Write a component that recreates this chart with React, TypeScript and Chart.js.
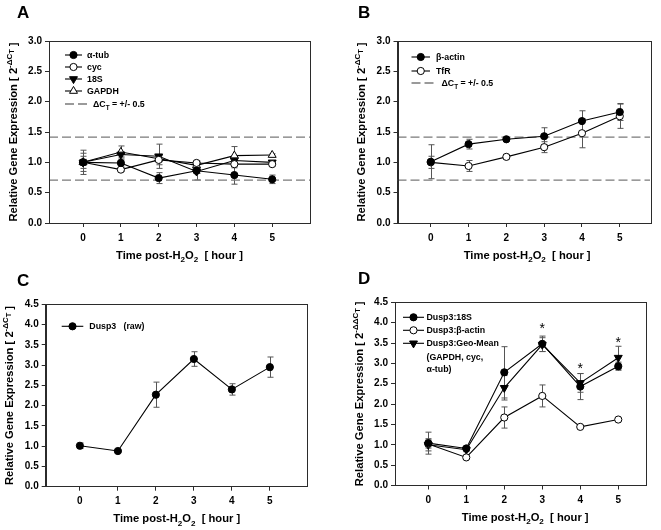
import React, { useEffect, useRef } from "react";
import { Chart, registerables } from "chart.js";

Chart.register(...registerables);

const W = 661;
const H = 530;
const FONT = "'Liberation Sans', Arial, Helvetica, sans-serif";

// ---------------- data ----------------
const hours = [0, 1, 2, 3, 4, 5];
const yTicksAB = [0, 0.5, 1, 1.5, 2, 2.5, 3];
const yTicksCD = [0, 0.5, 1, 1.5, 2, 2.5, 3, 3.5, 4, 4.5];
const refUpper = 1.414;
const refLower = 0.707;

// Panel A
const alphaTub = [1.0, 0.99, 0.74, 0.86, 0.79, 0.72];
const alphaTubErr = [0.1, 0.05, 0.09, 0.04, 0.15, 0.07];
const cyc = [1.0, 0.88, 1.04, 0.99, 0.97, 0.97];
const cycErr = [0.2, 0.03, 0.08, 0.03, 0.06, 0.03];
const s18 = [1.0, 1.13, 1.1, 0.85, 1.03, 1.0];
const s18Err = [0.15, 0.04, 0.2, 0.14, 0.05, 0.03];
const gapdh = [1.0, 1.17, 1.06, 0.95, 1.11, 1.12];
const gapdhErr = [0.05, 0.1, 0.05, 0.04, 0.15, 0.02];

// Panel B
const betaActin = [1.01, 1.3, 1.38, 1.43, 1.68, 1.83];
const betaActinErr = [0.28, 0.08, 0.03, 0.14, 0.17, 0.14];
const tfr = [1.0, 0.94, 1.09, 1.25, 1.48, 1.76];
const tfrErr = [0.1, 0.09, 0.04, 0.09, 0.24, 0.2];

// Panel C
const dusp3Raw = [1.01, 0.88, 2.27, 3.15, 2.4, 2.95];
const dusp3RawErr = [0.07, 0.03, 0.31, 0.18, 0.14, 0.25];

// Panel D
const dusp18S = [1.04, 0.91, 2.78, 3.48, 2.43, 2.93];
const dusp18SErr = [0.27, 0.05, 0.63, 0.19, 0.32, 0.1];
const duspActin = [1.02, 0.69, 1.67, 2.2, 1.44, 1.62];
const duspActinErr = [0.1, 0.03, 0.26, 0.27, 0.02, 0.03];
const duspGeo = [1.0, 0.88, 2.4, 3.46, 2.52, 3.14];
const duspGeoErr = [0.15, 0.05, 0.3, 0.17, 0.23, 0.28];
const asteriskHours = [3, 4, 5];
const asteriskLevels = [3.94, 2.97, 3.61];

// ---------------- types & helpers ----------------
type Mode = "n" | "sub" | "sup" | "supsub";
type Seg = [string, Mode?];
type Marker = "filledCircle" | "openCircle" | "filledTriDown" | "openTriUp";

interface SeriesCfg {
  values: number[];
  errors: number[];
  marker: Marker;
}
interface LegendRow {
  segs: Seg[];
  marker?: Marker | "dash";
  dy: number;
}
interface PanelCfg {
  key: string;
  letter: string;
  letterX: number;
  letterY: number;
  area: { left: number; top: number; right: number; bottom: number };
  xMin: number;
  xMax: number;
  yMax: number;
  yTicks: number[];
  series: SeriesCfg[];
  refLines: boolean;
  legend: { x0: number; x1: number; tx: number; dashTx: number; rows: LegendRow[] };
  yTitle: Seg[];
  asterisks?: { x: number[]; y: number[] };
}

function segSize(mode: Mode, size: number) {
  if (mode === "supsub") return size * 0.62;
  if (mode === "n") return size;
  return size * 0.72;
}
function segShift(mode: Mode, size: number) {
  if (mode === "sub") return size * 0.3;
  if (mode === "sup") return -size * 0.42;
  if (mode === "supsub") return -size * 0.42 + size * 0.22;
  return 0;
}
function measureRich(ctx: CanvasRenderingContext2D, segs: Seg[], size: number) {
  let w = 0;
  for (const [t, m = "n"] of segs) {
    ctx.font = `bold ${segSize(m, size)}px ${FONT}`;
    w += ctx.measureText(t).width;
  }
  return w;
}
function drawRich(ctx: CanvasRenderingContext2D, segs: Seg[], x: number, y: number, size: number) {
  let cx = x;
  ctx.textBaseline = "alphabetic";
  ctx.textAlign = "left";
  for (const [t, m = "n"] of segs) {
    ctx.font = `bold ${segSize(m, size)}px ${FONT}`;
    ctx.fillText(t, cx, y + segShift(m, size));
    cx += ctx.measureText(t).width;
  }
}
function drawMarker(ctx: CanvasRenderingContext2D, m: Marker, x: number, y: number) {
  ctx.save();
  ctx.lineWidth = 1;
  ctx.strokeStyle = "#000";
  ctx.fillStyle = m === "filledCircle" || m === "filledTriDown" ? "#000" : "#fff";
  ctx.beginPath();
  if (m === "filledCircle" || m === "openCircle") {
    ctx.arc(x, y, 3.6, 0, Math.PI * 2);
  } else {
    const r = 4.6;
    let rad = m === "filledTriDown" ? Math.PI : 0;
    ctx.moveTo(x + Math.sin(rad) * r, y - Math.cos(rad) * r);
    rad += (2 * Math.PI) / 3;
    ctx.lineTo(x + Math.sin(rad) * r, y - Math.cos(rad) * r);
    rad += (2 * Math.PI) / 3;
    ctx.lineTo(x + Math.sin(rad) * r, y - Math.cos(rad) * r);
    ctx.closePath();
  }
  ctx.fill();
  ctx.stroke();
  ctx.restore();
}

const xTitle: Seg[] = [["Time post-H"], ["2", "sub"], ["O"], ["2", "sub"], ["  [ hour ]"]];
const yTitleCT: Seg[] = [["Relative Gene Expression [ 2"], ["-\u0394C", "sup"], ["T", "supsub"], [" ]"]];
const yTitleDDCT: Seg[] = [["Relative Gene Expression [ 2"], ["-\u0394\u0394C", "sup"], ["T", "supsub"], [" ]"]];
const refLabel: Seg[] = [["\u0394C"], ["T", "sub"], [" = +/- 0.5"]];

const panels: PanelCfg[] = [
  {
    key: "A",
    letter: "A",
    letterX: 17,
    letterY: 18,
    area: { left: 49, top: 41, right: 310, bottom: 223 },
    xMin: -0.9,
    xMax: 6,
    yMax: 3,
    yTicks: yTicksAB,
    series: [
      { values: alphaTub, errors: alphaTubErr, marker: "filledCircle" },
      { values: cyc, errors: cycErr, marker: "openCircle" },
      { values: s18, errors: s18Err, marker: "filledTriDown" },
      { values: gapdh, errors: gapdhErr, marker: "openTriUp" },
    ],
    refLines: true,
    legend: {
      x0: 16,
      x1: 33,
      tx: 38,
      dashTx: 44,
      rows: [
        { segs: [["\u03b1-tub"]], marker: "filledCircle", dy: 14 },
        { segs: [["cyc"]], marker: "openCircle", dy: 26 },
        { segs: [["18S"]], marker: "filledTriDown", dy: 38 },
        { segs: [["GAPDH"]], marker: "openTriUp", dy: 50 },
        { segs: refLabel, marker: "dash", dy: 63 },
      ],
    },
    yTitle: yTitleCT,
  },
  {
    key: "B",
    letter: "B",
    letterX: 358,
    letterY: 18,
    area: { left: 397.5, top: 41, right: 650, bottom: 223 },
    xMin: -0.88,
    xMax: 5.8,
    yMax: 3,
    yTicks: yTicksAB,
    series: [
      { values: betaActin, errors: betaActinErr, marker: "filledCircle" },
      { values: tfr, errors: tfrErr, marker: "openCircle" },
    ],
    refLines: true,
    legend: {
      x0: 14,
      x1: 32.5,
      tx: 38.5,
      dashTx: 44,
      rows: [
        { segs: [["\u03b2-actin"]], marker: "filledCircle", dy: 16 },
        { segs: [["TfR"]], marker: "openCircle", dy: 30 },
        { segs: refLabel, marker: "dash", dy: 42 },
      ],
    },
    yTitle: yTitleCT,
  },
  {
    key: "C",
    letter: "C",
    letterX: 17,
    letterY: 286,
    area: { left: 45.7, top: 304.3, right: 306.7, bottom: 486.7 },
    xMin: -0.9,
    xMax: 5.97,
    yMax: 4.5,
    yTicks: yTicksCD,
    series: [{ values: dusp3Raw, errors: dusp3RawErr, marker: "filledCircle" }],
    refLines: false,
    legend: {
      x0: 16,
      x1: 37.6,
      tx: 43.6,
      dashTx: 44,
      rows: [{ segs: [["Dusp3   (raw)"]], marker: "filledCircle", dy: 22 }],
    },
    yTitle: yTitleCT,
  },
  {
    key: "D",
    letter: "D",
    letterX: 358,
    letterY: 283.5,
    area: { left: 395, top: 302.3, right: 646, bottom: 485.5 },
    xMin: -0.876,
    xMax: 5.73,
    yMax: 4.5,
    yTicks: yTicksCD,
    series: [
      { values: dusp18S, errors: dusp18SErr, marker: "filledCircle" },
      { values: duspActin, errors: duspActinErr, marker: "openCircle" },
      { values: duspGeo, errors: duspGeoErr, marker: "filledTriDown" },
    ],
    refLines: false,
    legend: {
      x0: 8,
      x1: 29,
      tx: 31.5,
      dashTx: 44,
      rows: [
        { segs: [["Dusp3:18S"]], marker: "filledCircle", dy: 15 },
        { segs: [["Dusp3:\u03b2-actin"]], marker: "openCircle", dy: 28 },
        { segs: [["Dusp3:Geo-Mean"]], marker: "filledTriDown", dy: 41 },
        { segs: [["(GAPDH, cyc,"]], dy: 55 },
        { segs: [["\u03b1-tub)"]], dy: 67 },
      ],
    },
    yTitle: yTitleDDCT,
    asterisks: { x: asteriskHours, y: asteriskLevels },
  },
];

const Y_AXIS_W = 30;
const X_AXIS_H = 30;
const AXIS_COLOR = "#2b2b2b";

function buildConfig(cfg: PanelCfg): any {
  const datasets: any[] = cfg.series.map((s) => {
    const tri = s.marker === "filledTriDown" || s.marker === "openTriUp";
    const filled = s.marker === "filledCircle" || s.marker === "filledTriDown";
    return {
      type: "line",
      data: hours.map((h, i) => ({ x: h, y: s.values[i] })),
      borderColor: "#000",
      borderWidth: 1.1,
      pointStyle: tri ? "triangle" : "circle",
      pointRotation: s.marker === "filledTriDown" ? 180 : 0,
      pointRadius: tri ? 4.6 : 3.6,
      pointBackgroundColor: filled ? "#000" : "#fff",
      pointBorderColor: "#000",
      pointBorderWidth: 1,
      tension: 0,
      fill: false,
    };
  });
  if (cfg.refLines) {
    for (const lvl of [refUpper, refLower]) {
      datasets.push({
        type: "line",
        data: [
          { x: cfg.xMin, y: lvl },
          { x: cfg.xMax, y: lvl },
        ],
        borderColor: "#7a7a7a",
        borderWidth: 1.3,
        borderDash: [9, 4],
        pointRadius: 0,
        fill: false,
      });
    }
  }

  const decor = {
    id: "decor",
    beforeDatasetsDraw(chart: any) {
      const { ctx } = chart;
      const xs = chart.scales.x;
      const ys = chart.scales.y;
      ctx.save();
      ctx.strokeStyle = "#555";
      ctx.lineWidth = 1;
      cfg.series.forEach((s) =>
        s.values.forEach((v, i) => {
          const e = s.errors[i];
          if (!e) return;
          const px = Math.round(xs.getPixelForValue(hours[i])) + 0.5;
          const y1 = ys.getPixelForValue(v + e);
          const y2 = ys.getPixelForValue(v - e);
          ctx.beginPath();
          ctx.moveTo(px, y1);
          ctx.lineTo(px, y2);
          ctx.moveTo(px - 3, y1);
          ctx.lineTo(px + 3, y1);
          ctx.moveTo(px - 3, y2);
          ctx.lineTo(px + 3, y2);
          ctx.stroke();
        })
      );
      ctx.restore();
    },
    afterDraw(chart: any) {
      const { ctx, chartArea: a } = chart;
      const xs = chart.scales.x;
      const ys = chart.scales.y;
      ctx.save();
      // frame
      ctx.strokeStyle = AXIS_COLOR;
      ctx.lineWidth = 1;
      ctx.strokeRect(Math.round(a.left) + 0.5, Math.round(a.top) + 0.5, Math.round(a.right - a.left), Math.round(a.bottom - a.top));
      ctx.fillStyle = "#000";
      // panel letter
      ctx.font = `bold 17px ${FONT}`;
      ctx.textAlign = "left";
      ctx.textBaseline = "alphabetic";
      ctx.fillText(cfg.letter, cfg.letterX, cfg.letterY);
      // x title
      const tSize = 11.2;
      const xw = measureRich(ctx, xTitle, tSize);
      const xc = xs.getPixelForValue(2.55);
      drawRich(ctx, xTitle, xc - xw / 2, a.bottom + 35.5, tSize);
      // y title
      const yw = measureRich(ctx, cfg.yTitle, tSize);
      ctx.save();
      ctx.translate(a.left - 32.5, (a.top + a.bottom) / 2);
      ctx.rotate(-Math.PI / 2);
      drawRich(ctx, cfg.yTitle, -yw / 2, 0, tSize);
      ctx.restore();
      // legend
      const L = cfg.legend;
      for (const row of L.rows) {
        const y = a.top + row.dy;
        const lsize = 8.8;
        if (row.marker === "dash") {
          ctx.save();
          ctx.strokeStyle = "#7a7a7a";
          ctx.lineWidth = 1.3;
          ctx.setLineDash([9, 4]);
          ctx.beginPath();
          ctx.moveTo(a.left + L.x0, y);
          ctx.lineTo(a.left + L.dashTx - 5, y);
          ctx.stroke();
          ctx.restore();
          drawRich(ctx, row.segs, a.left + L.dashTx, y + 3, lsize);
        } else {
          if (row.marker) {
            ctx.save();
            ctx.strokeStyle = "#000";
            ctx.lineWidth = 1.1;
            ctx.beginPath();
            ctx.moveTo(a.left + L.x0, y);
            ctx.lineTo(a.left + L.x1, y);
            ctx.stroke();
            ctx.restore();
            drawMarker(ctx, row.marker, a.left + (L.x0 + L.x1) / 2, y);
          }
          drawRich(ctx, row.segs, a.left + L.tx, y + 3, lsize);
        }
      }
      // asterisks
      if (cfg.asterisks) {
        ctx.font = `14px ${FONT}`;
        ctx.textAlign = "center";
        ctx.textBaseline = "alphabetic";
        cfg.asterisks.x.forEach((h, i) => {
          const px = xs.getPixelForValue(h);
          const py = ys.getPixelForValue(cfg.asterisks!.y[i]);
          ctx.fillText("*", px, py + 0.57 * 14);
        });
      }
      ctx.restore();
    },
  };

  const tickFont = { family: FONT, size: 10, weight: "bold" as const };
  return {
    type: "line",
    data: { datasets },
    plugins: [decor],
    options: {
      responsive: false,
      animation: false,
      events: [],
      layout: {
        padding: {
          left: cfg.area.left - Y_AXIS_W,
          top: cfg.area.top,
          right: W - cfg.area.right,
          bottom: H - cfg.area.bottom - X_AXIS_H,
        },
      },
      plugins: {
        legend: { display: false },
        tooltip: { enabled: false },
        title: { display: false },
      },
      scales: {
        x: {
          type: "linear",
          min: cfg.xMin,
          max: cfg.xMax,
          afterFit: (s: any) => {
            s.height = X_AXIS_H;
          },
          afterBuildTicks: (s: any) => {
            s.ticks = hours.map((v) => ({ value: v }));
          },
          grid: { display: true, drawOnChartArea: false, drawTicks: true, tickLength: 4, color: AXIS_COLOR },
          border: { display: true, color: AXIS_COLOR, width: 1 },
          ticks: {
            font: tickFont,
            color: "#000",
            padding: 5,
            maxRotation: 0,
            autoSkip: false,
            callback: (v: any) => String(v),
          },
        },
        y: {
          type: "linear",
          min: 0,
          max: cfg.yMax,
          afterFit: (s: any) => {
            s.width = Y_AXIS_W;
          },
          afterBuildTicks: (s: any) => {
            s.ticks = cfg.yTicks.map((v) => ({ value: v }));
          },
          grid: { display: true, drawOnChartArea: false, drawTicks: true, tickLength: 4, color: AXIS_COLOR },
          border: { display: true, color: AXIS_COLOR, width: 1 },
          ticks: {
            font: tickFont,
            color: "#000",
            padding: 3,
            autoSkip: false,
            callback: (v: any) => Number(v).toFixed(1),
          },
        },
      },
    },
  };
}

function Panel({ cfg }: { cfg: PanelCfg }) {
  const ref = useRef<HTMLCanvasElement>(null);
  useEffect(() => {
    const chart = new Chart(ref.current as HTMLCanvasElement, buildConfig(cfg));
    return () => chart.destroy();
  }, [cfg]);
  return (
    <canvas
      ref={ref}
      width={W}
      height={H}
      style={{ position: "absolute", left: 0, top: 0, width: W, height: H }}
    />
  );
}

export default function App() {
  return (
    <div
      style={{
        position: "fixed",
        left: 0,
        top: 0,
        width: W,
        height: H,
        background: "#fff",
        overflow: "hidden",
      }}
    >
      {panels.map((p) => (
        <Panel key={p.key} cfg={p} />
      ))}
    </div>
  );
}
